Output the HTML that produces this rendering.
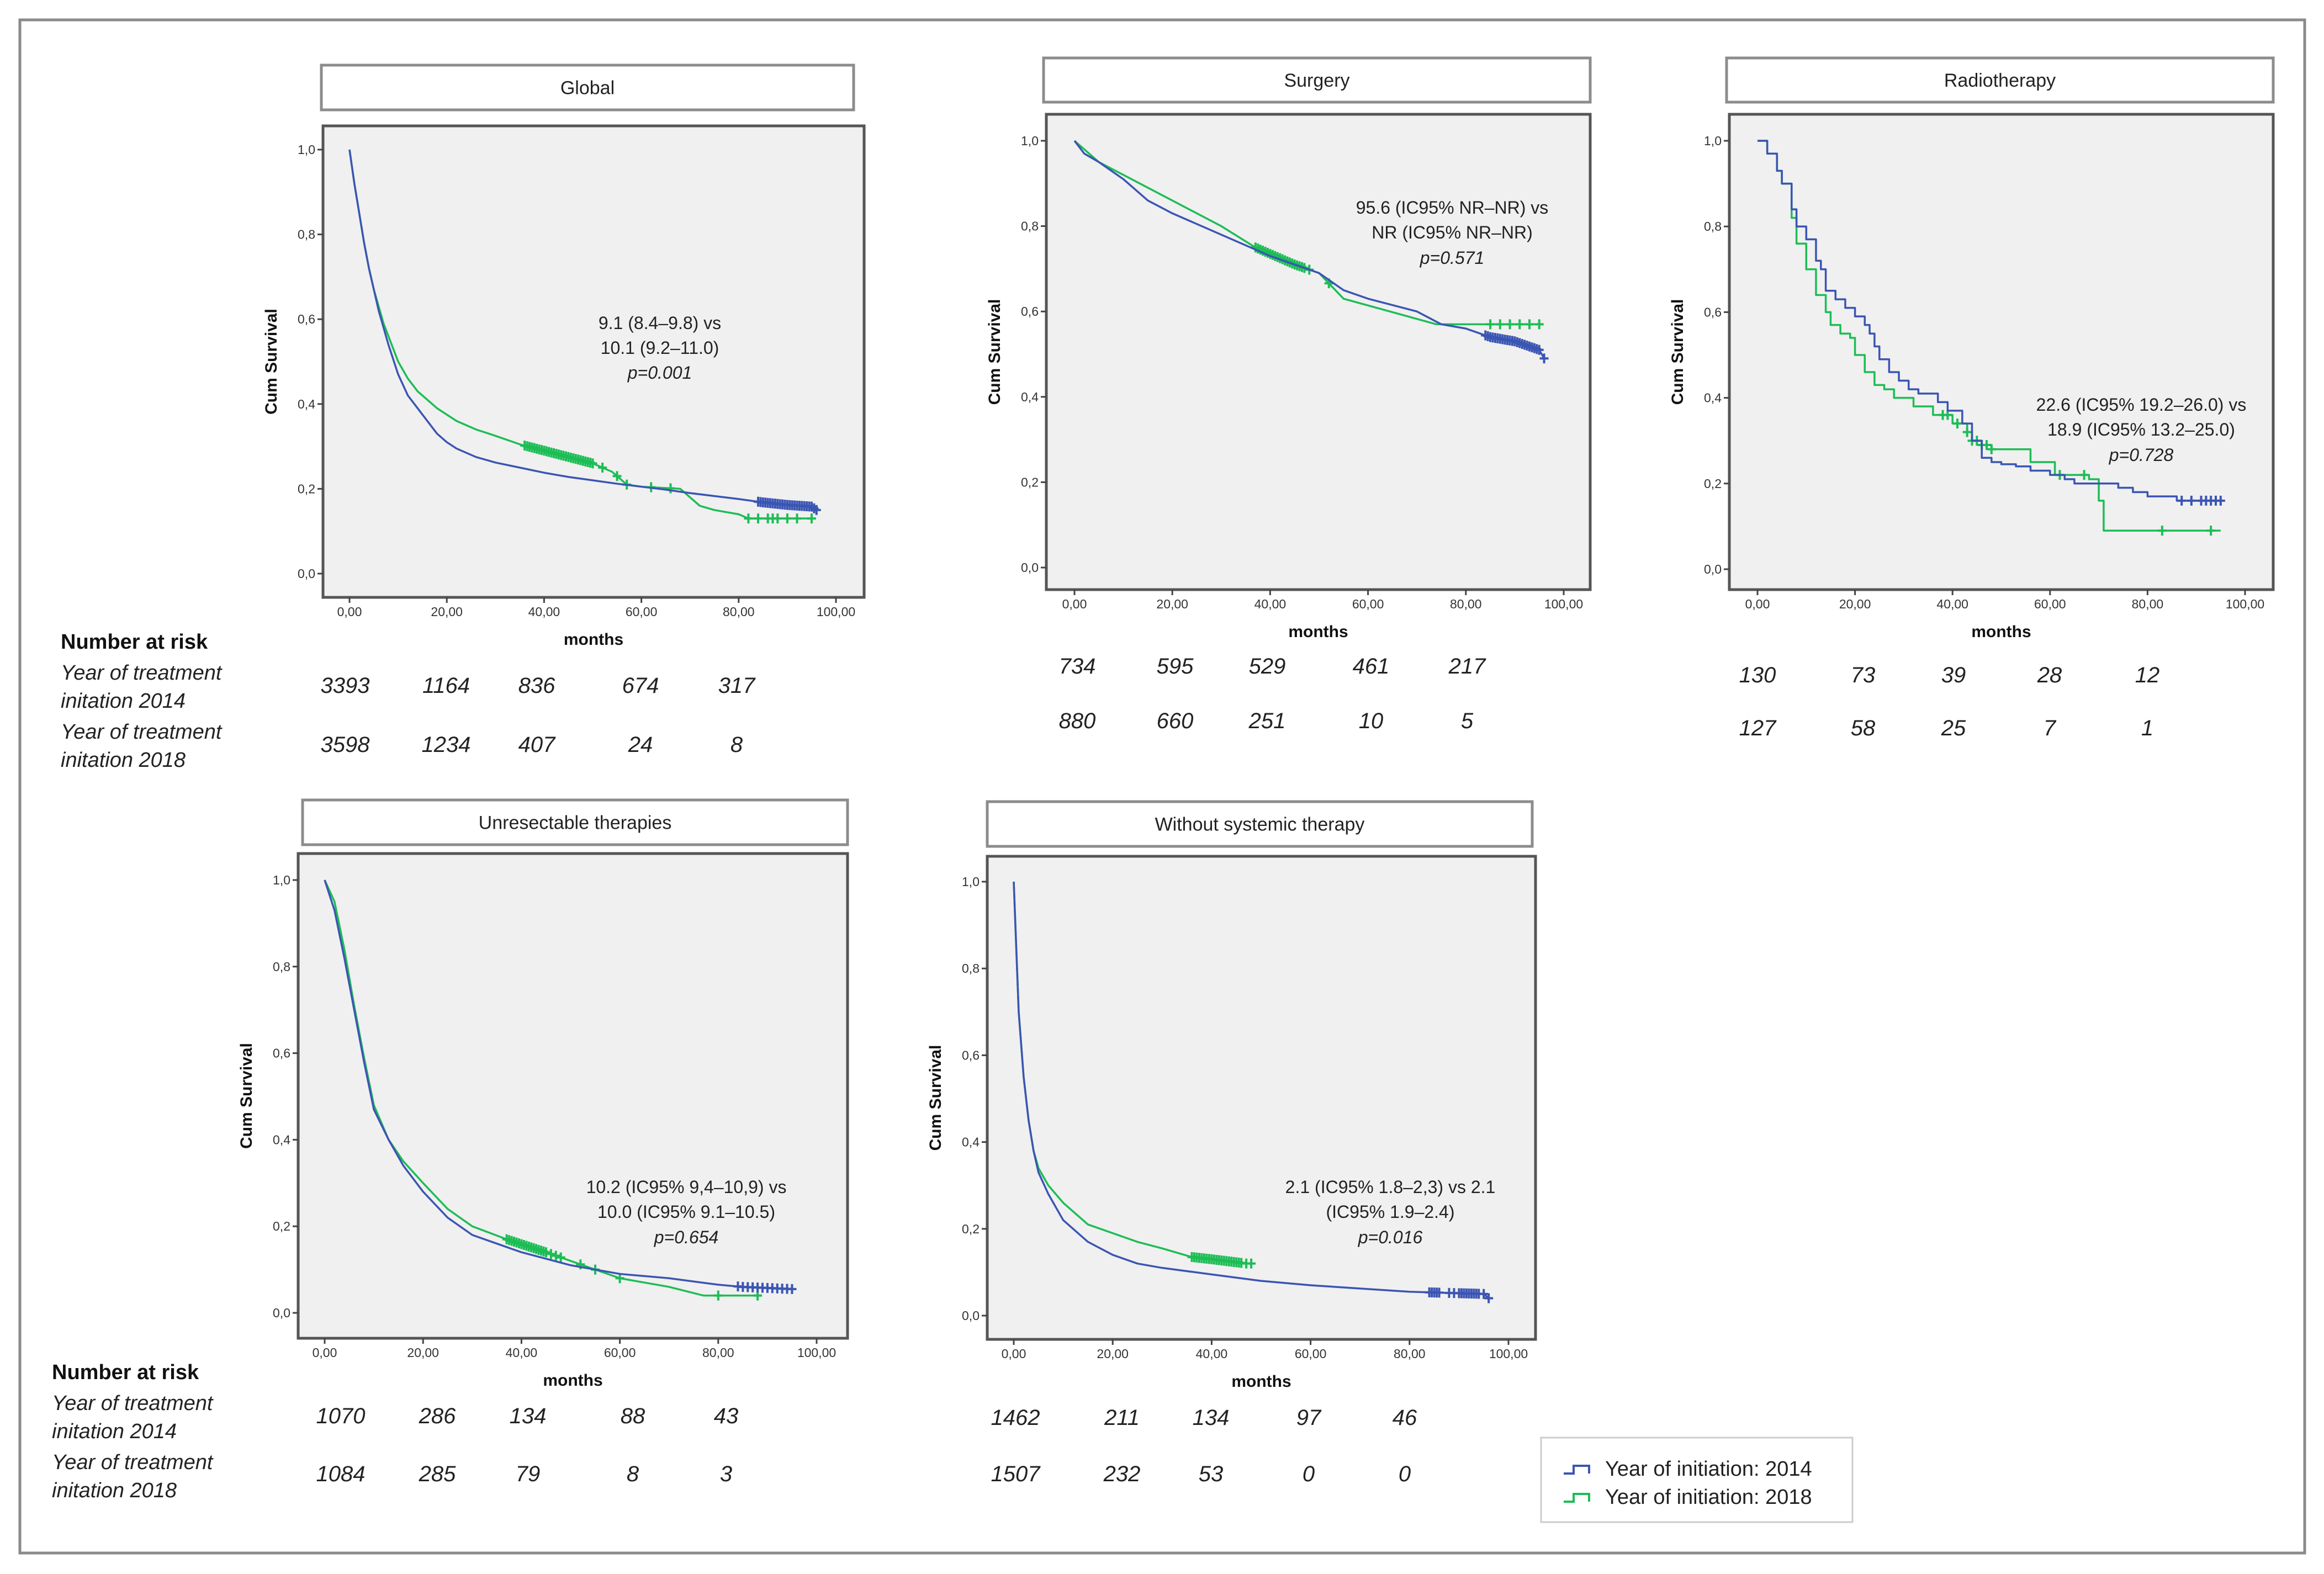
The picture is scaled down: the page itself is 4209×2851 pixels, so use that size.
<!DOCTYPE html>
<html><head><meta charset="utf-8">
<style>
html,body{margin:0;padding:0;background:#fff;}
svg{display:block;font-family:"Liberation Sans",sans-serif;}
</style></head>
<body>
<svg id="fig" width="4209" height="2851" viewBox="0 0 4209 2851" xmlns="http://www.w3.org/2000/svg">
<rect x="36" y="36" width="4138" height="2777" fill="#fff" stroke="#8a8a8a" stroke-width="5"/>
</svg>
<script>
// ---- data (months, survival) ----
const globalBlueT=[0,1,2,3,4,5,6,7,8,10,12,14,16,18,20,22,26,30,35,40,45,50,55,60,65,70,75,80,85,90,95,96];
const globalBlueS=[1,0.92,0.85,0.78,0.72,0.67,0.62,0.58,0.54,0.47,0.42,0.39,0.36,0.33,0.31,0.295,0.275,0.262,0.25,0.238,0.228,0.22,0.212,0.205,0.198,0.19,0.183,0.176,0.168,0.162,0.158,0.15];
const globalGreenT=[0,1,2,3,4,5,6,7,8,10,12,14,16,18,20,22,26,30,35,40,45,50,54,57,60,68,70,72,75,80,82,95];
const globalGreenS=[1,0.92,0.85,0.78,0.72,0.67,0.63,0.59,0.56,0.5,0.46,0.43,0.41,0.39,0.375,0.36,0.34,0.325,0.305,0.29,0.275,0.26,0.24,0.21,0.205,0.2,0.18,0.16,0.15,0.14,0.13,0.13];
const globalBlueCens=[84,84.5,85,85.5,86,86.5,87,87.5,88,88.5,89,89.5,90,90.5,91,91.5,92,92.5,93,93.5,94,94.5,95,95.5,96];
const globalGreenCens=[36,36.5,37,37.5,38,38.5,39,39.5,40,40.5,41,41.5,42,42.5,43,43.5,44,44.5,45,45.5,46,46.5,47,47.5,48,48.5,49,49.5,50,52,55,57,62,66,82,84,86,87,88,90,92,95];

const surgBlueT=[0,2,5,10,15,20,30,40,50,55,60,70,75,80,85,90,95,96];
const surgBlueS=[1,0.97,0.95,0.91,0.86,0.83,0.78,0.73,0.69,0.65,0.63,0.6,0.57,0.56,0.54,0.53,0.51,0.49];
const surgGreenT=[0,5,10,20,30,37,45,50,55,74,80,95];
const surgGreenS=[1,0.95,0.92,0.86,0.8,0.75,0.71,0.69,0.63,0.57,0.57,0.57];
const surgBlueCens=[84,84.5,85,85.5,86,86.5,87,87.5,88,88.5,89,89.5,90,90.5,91,91.5,92,92.5,93,93.5,94,94.5,95,96];
const surgGreenCens=[37,37.5,38,38.5,39,39.5,40,40.5,41,41.5,42,42.5,43,43.5,44,44.5,45,45.5,46,46.5,47,48,52,85,87,89,91,93,95];

const radBlueT=[0,2,4,5,7,8,10,12,13,14,16,18,20,22,23,24,25,27,29,31,33,37,39,42,44,46,48,50,53,56,60,63,65,70,74,77,80,86,95];
const radBlueS=[1,0.97,0.93,0.9,0.84,0.8,0.77,0.72,0.7,0.65,0.63,0.61,0.59,0.57,0.55,0.52,0.49,0.46,0.44,0.42,0.41,0.39,0.37,0.34,0.3,0.26,0.25,0.245,0.24,0.23,0.22,0.21,0.2,0.2,0.19,0.18,0.17,0.16,0.16];
const radGreenT=[0,2,4,5,7,8,10,12,14,15,17,19,20,22,24,26,28,32,36,40,43,44,46,48,56,61,68,70,71,95];
const radGreenS=[1,0.97,0.93,0.9,0.82,0.76,0.7,0.64,0.6,0.57,0.55,0.54,0.5,0.46,0.43,0.42,0.4,0.38,0.36,0.34,0.32,0.3,0.29,0.28,0.25,0.22,0.21,0.16,0.09,0.09];
const radBlueCens=[87,89,91,92,93,94,95];
const radGreenCens=[38,39,41,43,44,45,46,47,48,62,67,83,93];

const unrBlueT=[0,2,4,6,8,10,13,16,20,25,30,35,40,50,60,70,80,85,95];
const unrBlueS=[1,0.93,0.82,0.7,0.58,0.47,0.4,0.34,0.28,0.22,0.18,0.16,0.14,0.11,0.09,0.08,0.065,0.06,0.055];
const unrGreenT=[0,2,4,6,8,10,13,16,20,25,30,37,45,50,55,60,70,77,88];
const unrGreenS=[1,0.95,0.84,0.71,0.59,0.48,0.4,0.35,0.3,0.24,0.2,0.17,0.14,0.12,0.1,0.08,0.06,0.04,0.04];
const unrBlueCens=[84,85,86,87,88,89,90,91,92,93,94,95];
const unrGreenCens=[37,37.5,38,38.5,39,39.5,40,40.5,41,41.5,42,42.5,43,43.5,44,44.5,45,46,47,48,52,55,60,80,88];

const wstBlueT=[0,0.5,1,2,3,4,5,7,10,15,20,25,30,40,50,60,80,95,96];
const wstBlueS=[1,0.85,0.7,0.55,0.45,0.38,0.33,0.28,0.22,0.17,0.14,0.12,0.11,0.095,0.08,0.07,0.055,0.05,0.04];
const wstGreenT=[0,0.5,1,2,3,4,5,7,10,15,20,25,30,36,40,47];
const wstGreenS=[1,0.85,0.7,0.55,0.45,0.38,0.34,0.3,0.26,0.21,0.19,0.17,0.155,0.135,0.13,0.12];
const wstBlueCens=[84,84.5,85,85.5,86,88,89,90,90.5,91,91.5,92,92.5,93,93.5,94,95,96];
const wstGreenCens=[36,36.5,37,37.5,38,38.5,39,39.5,40,40.5,41,41.5,42,42.5,43,43.5,44,44.5,45,45.5,46,47,48];

const xTicks=[0,20,40,60,80,100];
const xTickLabels=["0,00","20,00","40,00","60,00","80,00","100,00"];
const yTicks=[0,0.2,0.4,0.6,0.8,1.0];
const yTickLabels=["0,0","0,2","0,4","0,6","0,8","1,0"];

const globalRisk14=["3393","1164","836","674","317"];
const globalRisk18=["3598","1234","407","24","8"];
const surgRisk14=["734","595","529","461","217"];
const surgRisk18=["880","660","251","10","5"];
const radRisk14=["130","73","39","28","12"];
const radRisk18=["127","58","25","7","1"];
const unrRisk14=["1070","286","134","88","43"];
const unrRisk18=["1084","285","79","8","3"];
const wstRisk14=["1462","211","134","97","46"];
const wstRisk18=["1507","232","53","0","0"];

const BLUE="#3b55b3", GREEN="#1dbd55";
const NS="http://www.w3.org/2000/svg";
const svg=document.getElementById('fig');
function el(tag,attrs,parent,text){const e=document.createElementNS(NS,tag);for(const k in attrs)e.setAttribute(k,attrs[k]);if(text!==undefined)e.textContent=text;(parent||svg).appendChild(e);return e;}

const panels=[
 {key:'global',title:'Global',step:false,tb:[582,118,1546,199],pb:[585,228,1565,1082],x0:633,x100:1514,y1:271,y0:1039,
  blue:[globalBlueT,globalBlueS,globalBlueCens],green:[globalGreenT,globalGreenS,globalGreenCens],
  ann:['9.1 (8.4–9.8) vs','10.1 (9.2–11.0)','p=0.001'],annX:1195,annY:[596,641,686],
  risk:[globalRisk14,globalRisk18],riskX:[625,808,972,1160,1334],riskY:[1255,1362]},
 {key:'surgery',title:'Surgery',step:false,tb:[1890,105,2880,185],pb:[1895,207,2880,1068],x0:1946,x100:2832,y1:255,y0:1028,
  blue:[surgBlueT,surgBlueS,surgBlueCens],green:[surgGreenT,surgGreenS,surgGreenCens],
  ann:['95.6 (IC95% NR–NR)  vs','NR (IC95% NR–NR)','p=0.571'],annX:2630,annY:[387,432,478],
  risk:[surgRisk14,surgRisk18],riskX:[1951,2128,2295,2483,2657],riskY:[1220,1319]},
 {key:'radiotherapy',title:'Radiotherapy',step:true,tb:[3127,105,4117,185],pb:[3132,207,4117,1068],x0:3183,x100:4066,y1:255,y0:1031,
  blue:[radBlueT,radBlueS,radBlueCens],green:[radGreenT,radGreenS,radGreenCens],
  ann:['22.6 (IC95% 19.2–26.0)  vs','18.9 (IC95% 13.2–25.0)','p=0.728'],annX:3878,annY:[744,789,835],
  risk:[radRisk14,radRisk18],riskX:[3183,3374,3538,3712,3889],riskY:[1236,1332]},
 {key:'unresectable',title:'Unresectable therapies',step:false,tb:[548,1449,1535,1530],pb:[540,1546,1535,2424],x0:588,x100:1479,y1:1594,y0:2378,
  blue:[unrBlueT,unrBlueS,unrBlueCens],green:[unrGreenT,unrGreenS,unrGreenCens],
  ann:['10.2 (IC95% 9,4–10,9)  vs','10.0 (IC95% 9.1–10.5)','p=0.654'],annX:1243,annY:[2161,2206,2252],
  risk:[unrRisk14,unrRisk18],riskX:[617,792,956,1146,1315],riskY:[2578,2683]},
 {key:'without-systemic',title:'Without systemic therapy',step:false,tb:[1788,1452,2775,1533],pb:[1788,1551,2781,2426],x0:1836,x100:2732,y1:1597,y0:2383,
  blue:[wstBlueT,wstBlueS,wstBlueCens],green:[wstGreenT,wstGreenS,wstGreenCens],
  ann:['2.1 (IC95% 1.8–2,3)  vs 2.1','(IC95% 1.9–2.4)','p=0.016'],annX:2518,annY:[2161,2206,2252],
  risk:[wstRisk14,wstRisk18],riskX:[1839,2032,2193,2370,2544],riskY:[2581,2683]}
];

panels.forEach(p=>{
  const g=el('g',{});
  
  
  const xs=v=>p.x0+(p.x100-p.x0)*v/100;
  const ys=v=>p.y0+(p.y1-p.y0)*v;
  const tb=el('rect',{x:p.tb[0],y:p.tb[1],width:p.tb[2]-p.tb[0],height:p.tb[3]-p.tb[1],fill:'#fff',stroke:'#8c8c8c','stroke-width':5},g);
  
  
  const tt=el('text',{x:(p.tb[0]+p.tb[2])/2,y:(p.tb[1]+p.tb[3])/2+12,'text-anchor':'middle','font-size':34,fill:'#222'},g,p.title);
  
  
  const pb=el('rect',{x:p.pb[0],y:p.pb[1],width:p.pb[2]-p.pb[0],height:p.pb[3]-p.pb[1],fill:'#f0f0f0',stroke:'#555','stroke-width':5},g);
  
  
  yTicks.forEach((t,i)=>{
    el('line',{x1:p.pb[0]-10,x2:p.pb[0],y1:ys(t),y2:ys(t),stroke:'#444','stroke-width':3},g);
    const l=el('text',{x:p.pb[0]-14,y:ys(t)+8,'text-anchor':'end','font-size':23,fill:'#333'},g,yTickLabels[i]);
    
    
  });
  xTicks.forEach((t,i)=>{
    el('line',{x1:xs(t),x2:xs(t),y1:p.pb[3],y2:p.pb[3]+10,stroke:'#444','stroke-width':3},g);
    const l=el('text',{x:xs(t),y:p.pb[3]+34,'text-anchor':'middle','font-size':23,fill:'#333'},g,xTickLabels[i]);
    
    
  });
  const cy=(p.pb[1]+p.pb[3])/2;
  const ya=el('text',{x:p.pb[0]-84,y:cy,'text-anchor':'middle','font-size':30,'font-weight':'bold',fill:'#111',transform:`rotate(-90 ${p.pb[0]-84} ${cy})`},g,'Cum Survival');
  
  
  const xa=el('text',{x:(p.pb[0]+p.pb[2])/2,y:p.pb[3]+86,'text-anchor':'middle','font-size':30,'font-weight':'bold',fill:'#111'},g,'months');
  
  
  [['green',GREEN,p.green],['blue',BLUE,p.blue]].forEach(([nm,col,d])=>{
    const T=d[0],S=d[1],C=d[2];
    let path=`M${xs(T[0])},${ys(S[0])}`;
    for(let i=1;i<T.length;i++){
      if(p.step) path+=` L${xs(T[i])},${ys(S[i-1])} L${xs(T[i])},${ys(S[i])}`;
      else path+=` L${xs(T[i])},${ys(S[i])}`;
    }
    const pe=el('path',{d:path,fill:'none',stroke:col,'stroke-width':3.5,'stroke-linejoin':'round'},g);
    
    
    const survAt=t=>{
      if(p.step){let s=S[0];for(let i=0;i<T.length;i++){if(T[i]<=t)s=S[i];}return s;}
      for(let i=1;i<T.length;i++){if(t<=T[i]){const f=(t-T[i-1])/(T[i]-T[i-1]);return S[i-1]+(S[i]-S[i-1])*f;}}
      return S[S.length-1];
    };
    C.forEach(c=>{
      const cx=xs(c),cyy=ys(survAt(c));
      const m=el('path',{d:`M${cx-8},${cyy} H${cx+8} M${cx},${cyy-9} V${cyy+9}`,stroke:col,'stroke-width':4},g);
      
      
    });
  });
  p.ann.forEach((a,i)=>{
    const t=el('text',{x:p.annX,y:p.annY[i],'text-anchor':'middle','font-size':32,fill:'#222','font-style':i==2?'italic':'normal'},g,a);
    
    
  });
  p.risk.forEach((row,r)=>{
    row.forEach((v,i)=>{
      const t=el('text',{x:p.riskX[i],y:p.riskY[r],'text-anchor':'middle','font-size':40,'font-style':'italic',fill:'#222'},g,v);
      
      
    });
  });
});

function riskLabels(x,yTitle,ys){
  const t=el('text',{x:x,y:yTitle,'font-size':38,'font-weight':'bold',fill:'#111'},svg,'Number at risk');
  
  
  const lines=['Year of treatment','initation 2014','Year of treatment','initation 2018'];
  lines.forEach((s,i)=>{
    const l=el('text',{x:x,y:ys[i],'font-size':38,'font-style':'italic',fill:'#222'},svg,s);
    
    
  });
}
riskLabels(110,1175,[1231,1282,1338,1389]);
riskLabels(94,2498,[2554,2605,2661,2712]);

const lg=el('g',{});


el('rect',{x:2791,y:2604,width:564,height:153,fill:'#fff',stroke:'#ccc','stroke-width':3},lg);
[[BLUE,'Year of initiation: 2014',2671],[GREEN,'Year of initiation: 2018',2722]].forEach(([c,s,y])=>{
  const sym=el('path',{d:`M2832,${y-2} H2850 V${y-16} H2878 V${y-2}`,fill:'none',stroke:c,'stroke-width':4},lg);
  
  
  const t=el('text',{x:2907,y:y+2,'font-size':38,fill:'#222'},lg,s);
  
  
});
</script>
</body></html>
